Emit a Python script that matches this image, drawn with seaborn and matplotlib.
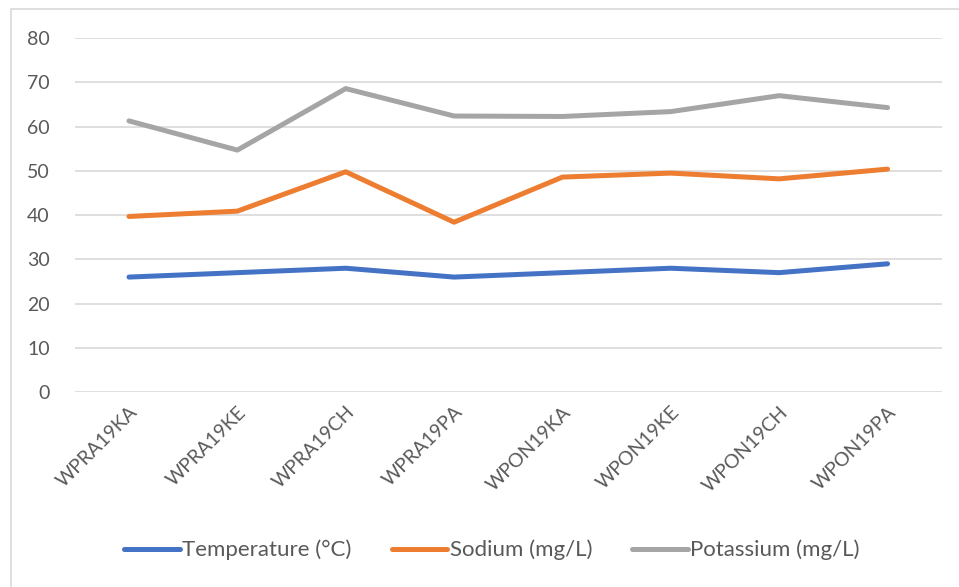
import matplotlib
matplotlib.use('Agg')
import matplotlib.pyplot as plt
import seaborn as sns
import pandas as pd
from matplotlib.patches import Rectangle

sites = ['WPRA19KA', 'WPRA19KE', 'WPRA19CH', 'WPRA19PA',
         'WPON19KA', 'WPON19KE', 'WPON19CH', 'WPON19PA']
temperature = [26, 27, 28, 26, 27, 28, 27, 29]
sodium = [39.7, 40.9, 49.8, 38.4, 48.6, 49.5, 48.2, 50.4]
potassium = [61.3, 54.7, 68.6, 62.4, 62.3, 63.4, 67.0, 64.3]

series_names = ['Temperature (°C)', 'Sodium (mg/L)', 'Potassium (mg/L)']
colors = ['#4472C4', '#ED7D31', '#A5A5A5']

sns.set_theme(style='white')
plt.rcParams['font.family'] = ['Lato', 'DejaVu Sans']

df = pd.DataFrame({'site': sites * 3,
                   'pos': list(range(len(sites))) * 3,
                   'value': temperature + sodium + potassium,
                   'series': [series_names[0]] * 8 + [series_names[1]] * 8 + [series_names[2]] * 8})

fig = plt.figure(figsize=(9.59, 5.87), dpi=100)
ax = fig.add_axes([0.078, 0.332, 0.904, 0.603])

sns.lineplot(data=df, x='pos', y='value', hue='series', hue_order=series_names,
             palette=colors, linewidth=3.6, ax=ax, sort=False,
             solid_capstyle='round', solid_joinstyle='round', legend=True)

ax.set_xlim(-0.5, len(sites) - 0.5)
ax.set_ylim(0, 80)
ax.set_yticks(range(0, 81, 10))
ax.set_xticks(range(len(sites)))
ax.set_xticklabels(sites, rotation=45, ha='right', rotation_mode='anchor')
ax.tick_params(axis='both', labelsize=14, labelcolor='#595959', length=0)
ax.tick_params(axis='y', pad=18)
ax.tick_params(axis='x', pad=8)
ax.yaxis.grid(True, color='#D9D9D9', linewidth=1.2)
ax.set_axisbelow(True)
for s in ax.spines.values():
    s.set_visible(False)
ax.set_xlabel('')
ax.set_ylabel('')

handles, labels = ax.get_legend_handles_labels()
ax.legend(handles, labels, loc='center', bbox_to_anchor=(0.513, 0.063),
          bbox_transform=fig.transFigure, ncol=3, frameon=False,
          fontsize=16, labelcolor='#595959', handlelength=2.5,
          handletextpad=0.12, columnspacing=1.8)

# chart area border
fig.patches.append(Rectangle((11 / 959, -0.01), 1.0, 1 - 9 / 587 + 0.01,
                             transform=fig.transFigure, fill=False,
                             edgecolor='#D9D9D9', linewidth=1.2))

fig.savefig('out.png', dpi=100, facecolor='white')
